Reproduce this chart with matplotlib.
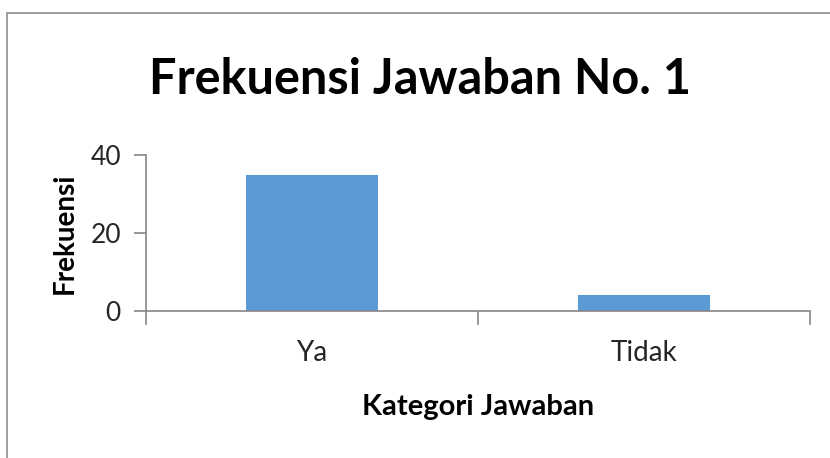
import matplotlib.pyplot as plt
import matplotlib.patches as mpatches

# data
categories = ["Ya", "Tidak"]
frequencies = [35, 4]
y_ticks = [0, 20, 40]

plt.rcParams['font.family'] = ['Lato', 'DejaVu Sans']

fig = plt.figure(figsize=(8.3, 4.58), dpi=100)

# chart frame (Excel style border, running off the right/bottom edge)
frame = mpatches.Rectangle((7 / 830, -0.05), 1.0, 1 - 13 / 458 + 0.05,
                           transform=fig.transFigure, fill=False,
                           edgecolor='#8c8c8c', linewidth=1.2)
fig.patches.append(frame)

ax = fig.add_axes([146 / 830, 1 - 311 / 458, 664 / 830, 156 / 458])

x = range(len(categories))
ax.bar(x, frequencies, width=0.4, color='#5B9BD5')

ax.set_xlim(-0.5, len(categories) - 0.5)
ax.set_ylim(0, 40)
ax.set_yticks(y_ticks)
ax.set_xticks(list(x))
ax.set_xticklabels(categories)

# category boundary ticks on the x axis
ax.set_xticks([-0.5, 0.5, 1.5], minor=True)
ax.tick_params(axis='x', which='major', length=0, pad=21, labelsize=20,
               labelcolor='#262626')
ax.tick_params(axis='x', which='minor', length=10, width=1.2, color='#868686',
               direction='out')
ax.tick_params(axis='y', length=9, width=1.2, color='#868686', pad=9,
               labelsize=19, labelcolor='#262626')

for side in ['top', 'right']:
    ax.spines[side].set_visible(False)
for side in ['left', 'bottom']:
    ax.spines[side].set_color('#868686')
    ax.spines[side].set_linewidth(1.2)

ax.set_ylabel("Frekuensi", fontsize=20, fontweight='bold', labelpad=9)
ax.set_xlabel("Kategori Jawaban", fontsize=21, fontweight='bold', labelpad=20)

fig.text(420 / 830, 1 - 80 / 458, "Frekuensi Jawaban No. 1", ha='center',
         va='center', fontsize=35, fontweight='bold')

fig.savefig("out.png", dpi=100)
